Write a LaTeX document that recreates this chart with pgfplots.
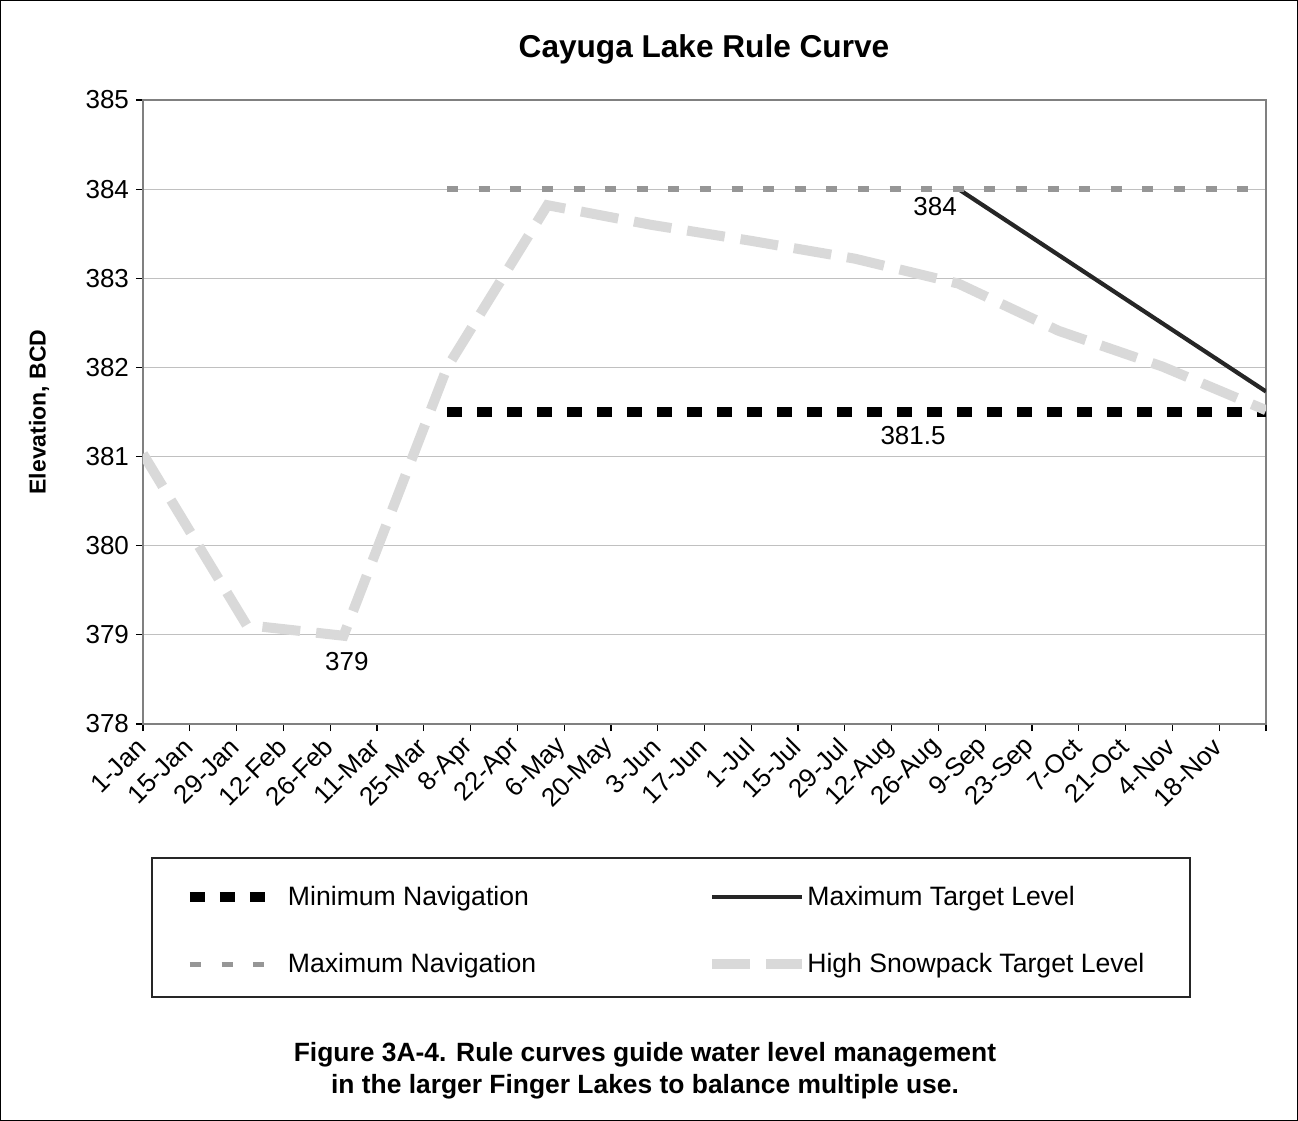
\documentclass[border=0pt]{standalone}
\usepackage{fontspec}
\setmainfont{Liberation Sans}
\usepackage{pgfplots}
\pgfplotsset{compat=1.18}
\definecolor{maxnav}{HTML}{969696}
\definecolor{snow}{HTML}{D9D9D9}
\definecolor{axisgray}{HTML}{808080}
\definecolor{gridgray}{HTML}{C0C0C0}
\definecolor{maxtarget}{HTML}{262626}
\pgfplotsset{
  legshort/.style={legend image code/.code={\draw[##1] (0pt,0pt) -- (37.5pt,0pt);}},
  leglong/.style={legend image code/.code={\draw[##1] (0pt,0pt) -- (45pt,0pt);}},
}
\begin{document}
\begin{tikzpicture}
\begin{axis}[
  at={(0,0)}, anchor=south west,
  scale only axis, width=561.5pt, height=312pt,
  xmin=0, xmax=336, ymin=378, ymax=385,
  xtick={0,14,...,336},
  xticklabels={1-Jan,15-Jan,29-Jan,12-Feb,26-Feb,11-Mar,25-Mar,8-Apr,22-Apr,6-May,20-May,3-Jun,17-Jun,1-Jul,15-Jul,29-Jul,12-Aug,26-Aug,9-Sep,23-Sep,7-Oct,21-Oct,4-Nov,18-Nov,{}},
  ytick={378,379,...,385},
  ymajorgrids, major grid style={gridgray, line width=0.5pt},
  axis line style={axisgray, line width=1.2pt},
  tick style={black, line width=0.6pt},
  tick align=outside, tickpos=left, major tick length=3.5pt,
  /pgf/number format/assume math mode=true,
  ticklabel style={font=\fontsize{13}{15.5}\selectfont},
  xticklabel style={yshift=-5pt, rotate=45, anchor=east, inner sep=1pt},
  legend columns=2,
  legend style={at={(0,0)}, anchor=north west, xshift=21pt, yshift=-81pt,
    draw=none, fill=none, inner sep=0pt, outer sep=0pt,
    font=\fontsize{13.3}{16}\selectfont, row sep=22.5pt,
    nodes={inner sep=0pt},
    /tikz/column 1/.style={column sep=9pt},
    /tikz/column 2/.style={column sep=85.5pt},
    /tikz/column 3/.style={column sep=0pt}},
  legend cell align=left,
]
\addplot[black, line width=5pt, dash pattern=on 7.5pt off 7.5pt, legshort]
  coordinates {(91,381.5) (336,381.5)};
\addlegendentry{Minimum Navigation}
\addplot[maxtarget, line width=2.1pt, leglong]
  coordinates {(244,384.0) (336,381.73)};
\addlegendentry{Maximum Target Level}
\addplot[maxnav, line width=2.8pt, dash pattern=on 5.5pt off 10.3pt, legshort]
  coordinates {(91,384) (336,384)};
\addlegendentry{Maximum Navigation}
\addplot[snow, line width=5pt, dash pattern=on 19pt off 8pt, leglong]
  coordinates {(0,381.03) (31,379.11) (60,378.99) (91,382.0) (121,383.82)
    (152,383.6) (182,383.42) (213,383.22) (244,382.94) (274,382.41)
    (305,382.01) (336,381.52)};
\addlegendentry{High Snowpack Target Level}
\node[font=\fontsize{13}{15.5}\selectfont] at (axis cs:237,383.8) {384};
\node[font=\fontsize{13}{15.5}\selectfont] at (axis cs:230.4,381.24) {381.5};
\node[font=\fontsize{13}{15.5}\selectfont] at (axis cs:61,378.70) {379};
\end{axis}
\node[font=\bfseries\fontsize{15.8}{19}\selectfont] at (280.5pt,337.5pt) {Cayuga Lake Rule Curve};
\node[font=\bfseries\fontsize{11.5}{14}\selectfont, rotate=90] at (-52pt,156pt) {Elevation, BCD};
\draw[black!85, line width=0.9pt] (4.5pt,-67pt) rectangle (523.5pt,-136.5pt);
\node[font=\bfseries\fontsize{13.2}{16}\selectfont, align=center] at (251pt,-173.5pt)
  {Figure 3A-4. Rule curves guide water level management\\in the larger Finger Lakes to balance multiple use.};
\draw[black, line width=0.75pt] (-71.125pt,-198.125pt) rectangle (577.125pt,361.625pt);
\end{tikzpicture}
\end{document}
